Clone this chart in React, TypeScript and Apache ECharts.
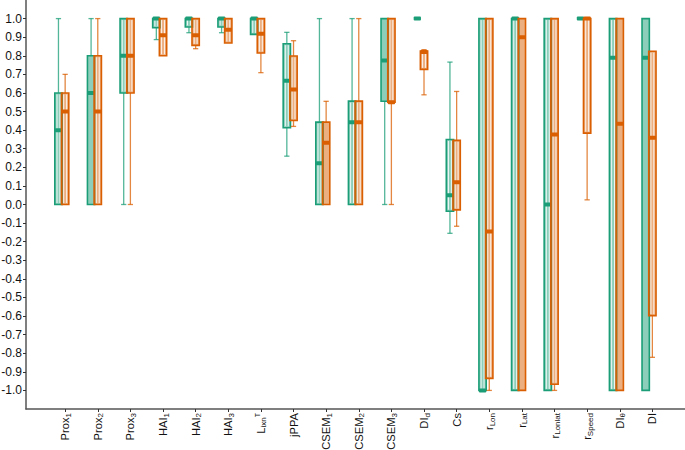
import React, { useEffect, useRef } from 'react';
import * as echarts from 'echarts';

const categories = [
  'Prox1', 'Prox2', 'Prox3', 'HAI1', 'HAI2', 'HAI3', 'LixnT', 'jPPA',
  'CSEM1', 'CSEM2', 'CSEM3', 'DId', 'Cs', 'rLon', 'rLat', 'rLonlat',
  'rSpeed', 'DIθ', 'DI',
];

const categoryLabels = [
  '{n|Prox}{s|1}', '{n|Prox}{s|2}', '{n|Prox}{s|3}',
  '{n|HAI}{s|1}', '{n|HAI}{s|2}', '{n|HAI}{s|3}',
  '{n|L}{s|ixn}{p|T}', '{n|jPPA}',
  '{n|CSEM}{s|1}', '{n|CSEM}{s|2}', '{n|CSEM}{s|3}',
  '{n|DI}{s|d}', '{n|Cs}',
  '{n|r}{s|Lon}', '{n|r}{s|Lat}', '{n|r}{s|Lonlat}', '{n|r}{s|Speed}',
  '{n|DI}{s|θ}', '{n|DI}',
];

const yTicks = [
  -1.0, -0.9, -0.8, -0.7, -0.6, -0.5, -0.4, -0.3, -0.2, -0.1, 0.0,
  0.1, 0.2, 0.3, 0.4, 0.5, 0.6, 0.7, 0.8, 0.9, 1.0,
];

// [lower whisker, Q1, median, Q3, upper whisker]
const greenStats = [
  [0, 0, 0.4, 0.6, 1.0],
  [0, 0, 0.6, 0.8, 1.0],
  [0, 0.6, 0.8, 1.0, 1.0],
  [0.887, 0.951, 1.0, 1.0, 1.0],
  [0.924, 0.955, 1.0, 1.0, 1.0],
  [0.924, 0.955, 1.0, 1.0, 1.0],
  [0.915, 0.915, 1.0, 1.0, 1.0],
  [0.26, 0.413, 0.666, 0.865, 0.926],
  [0, 0, 0.222, 0.443, 1.0],
  [0, 0, 0.443, 0.556, 1.0],
  [0, 0.555, 0.775, 1.0, 1.0],
  [1.0, 1.0, 1.0, 1.0, 1.0],
  [-0.155, -0.036, 0.05, 0.35, 0.766],
  [-1.0, -1.0, -1.0, 1.0, 1.0],
  [-1.0, -1.0, 1.0, 1.0, 1.0],
  [-1.0, -1.0, 0.0, 1.0, 1.0],
  [1.0, 1.0, 1.0, 1.0, 1.0],
  [-1.0, -1.0, 0.79, 1.0, 1.0],
  [-1.0, -1.0, 0.79, 1.0, 1.0],
];

const orangeStats = [
  [0, 0, 0.5, 0.6, 0.7],
  [0, 0, 0.5, 0.8, 1.0],
  [0, 0.6, 0.8, 1.0, 1.0],
  [0.8, 0.8, 0.91, 1.0, 1.0],
  [0.838, 0.856, 0.91, 1.0, 1.0],
  [0.869, 0.869, 0.94, 1.0, 1.0],
  [0.709, 0.815, 0.919, 1.0, 1.0],
  [0.42, 0.452, 0.619, 0.799, 0.881],
  [0, 0, 0.332, 0.443, 0.555],
  [0, 0, 0.443, 0.556, 1.0],
  [0, 0.55, 0.55, 1.0, 1.0],
  [0.59, 0.727, 0.82, 0.826, 0.833],
  [-0.117, -0.029, 0.12, 0.345, 0.608],
  [-1.0, -0.935, -0.145, 1.0, 1.0],
  [-1.0, -1.0, 0.9, 1.0, 1.0],
  [-1.0, -0.967, 0.377, 1.0, 1.0],
  [0.025, 0.384, 1.0, 1.0, 1.0],
  [-1.0, -1.0, 0.434, 1.0, 1.0],
  [-0.822, -0.598, 0.359, 0.824, 0.824],
];

// style only: boxes drawn with a plain fill (no inner light stripes)
const greenSolid = [2, 11, 19];
const orangeSolid = [9, 15, 18];

const GREEN = '#1b9e77';
const ORANGE = '#d95f02';
const FONT = '"Liberation Sans", Arial, sans-serif';

function makeRender(color: string, fill: string, offsetFrac: number, solid: number[]) {
  return (params: any, api: any) => {
    const xi = api.value(0);
    const lo = api.value(1);
    const q1 = api.value(2);
    const med = api.value(3);
    const q3 = api.value(4);
    const hi = api.value(5);
    const band = api.size([1, 0])[0];
    const w = band * 0.224;
    const cx = api.coord([xi, 0])[0] + band * offsetFrac;
    const Y = (v: number) => api.coord([xi, v])[1];
    const left = cx - w / 2;
    const capW = w * 0.72;
    const children: any[] = [];
    const ws = { stroke: color, lineWidth: 1.3, opacity: 0.75 };
    if (hi > q3) {
      children.push({ type: 'line', shape: { x1: cx, y1: Y(q3), x2: cx, y2: Y(hi) }, style: ws });
      children.push({ type: 'line', shape: { x1: cx - capW / 2, y1: Y(hi), x2: cx + capW / 2, y2: Y(hi) }, style: ws });
    }
    if (lo < q1) {
      children.push({ type: 'line', shape: { x1: cx, y1: Y(q1), x2: cx, y2: Y(lo) }, style: ws });
      children.push({ type: 'line', shape: { x1: cx - capW / 2, y1: Y(lo), x2: cx + capW / 2, y2: Y(lo) }, style: ws });
    }
    const top = Y(q3);
    const bot = Y(q1);
    const h = bot - top;
    if (h > 0.5) {
      children.push({
        type: 'rect',
        shape: { x: left, y: top, width: w, height: h },
        style: { fill, stroke: color, lineWidth: 1.6 },
      });
      if (solid.indexOf(xi) < 0 && h > 4) {
        const st = { stroke: 'rgba(255,255,255,0.92)', lineWidth: 0.9 };
        children.push({ type: 'line', shape: { x1: left + 2.2, y1: top + 1.5, x2: left + 2.2, y2: bot - 1.5 }, style: st });
        children.push({ type: 'line', shape: { x1: left + w - 2.2, y1: top + 1.5, x2: left + w - 2.2, y2: bot - 1.5 }, style: st });
      }
    }
    const ym = Y(med);
    children.push({
      type: 'rect',
      shape: { x: left, y: ym - 2, width: w, height: 4, r: 1 },
      style: { fill: color },
    });
    return { type: 'group', children };
  };
}

function fmtY(v: number) {
  const r = Math.round(v * 10) / 10;
  if (Math.abs(r) < 1e-9) return '0.0';
  return r < 0 ? '-' + (-r).toFixed(1) : r.toFixed(1);
}

export default function App() {
  const ref = useRef<HTMLDivElement>(null);
  useEffect(() => {
    document.body.style.margin = '0';
    const chart = echarts.init(ref.current!, null, { renderer: 'svg' });
    const xPositions = categories.map((_, i) => i + 1);
    const greenData = greenStats.map((s, i) => [i + 1, ...s]);
    const orangeData = orangeStats.map((s, i) => [i + 1, ...s]);
    chart.setOption({
      animation: false,
      textStyle: { fontFamily: FONT },
      grid: { left: 26, right: 0, top: 0, bottom: 41, containLabel: false, outerBoundsMode: 'none' },
      xAxis: {
        type: 'value',
        min: -0.2,
        max: 20,
        splitLine: { show: false },
        axisLine: { show: true, onZero: false, lineStyle: { color: '#555', width: 1.5 } },
        axisTick: { show: true, length: 3, customValues: xPositions, lineStyle: { color: '#333', width: 1 } },
        axisLabel: {
          show: true,
          customValues: xPositions,
          rotate: 90,
          margin: 4,
          formatter: (v: number) => categoryLabels[Math.round(v) - 1] || '',
          rich: {
            n: { fontSize: 11.2, lineHeight: 14, color: '#111', fontFamily: FONT },
            s: { fontSize: 8, lineHeight: 8, verticalAlign: 'bottom', color: '#111', fontFamily: FONT },
            p: { fontSize: 7, lineHeight: 7, verticalAlign: 'top', color: '#111', fontFamily: FONT },
          },
        },
      },
      yAxis: {
        type: 'value',
        min: -1.1,
        max: 1.1,
        splitLine: { show: false },
        axisLine: { show: true, onZero: false, lineStyle: { color: '#555', width: 1.5 } },
        axisTick: { show: true, length: 3, customValues: yTicks, lineStyle: { color: '#333', width: 1 } },
        axisLabel: {
          show: true,
          customValues: yTicks,
          margin: 4,
          fontSize: 12,
          color: '#111',
          fontFamily: FONT,
          formatter: fmtY,
        },
      },
      series: [
        {
          type: 'custom',
          name: 'green',
          renderItem: makeRender(GREEN, 'rgba(27,158,119,0.5)', -0.205, greenSolid),
          encode: { x: 0, y: [1, 2, 3, 4, 5] },
          data: greenData,
          clip: false,
        },
        {
          type: 'custom',
          name: 'orange',
          renderItem: makeRender(ORANGE, 'rgba(217,95,2,0.5)', 0, orangeSolid),
          encode: { x: 0, y: [1, 2, 3, 4, 5] },
          data: orangeData,
          clip: false,
        },
      ],
    });
    return () => chart.dispose();
  }, []);
  return <div ref={ref} style={{ position: 'absolute', left: 0, top: 0, width: 685, height: 450 }} />;
}
